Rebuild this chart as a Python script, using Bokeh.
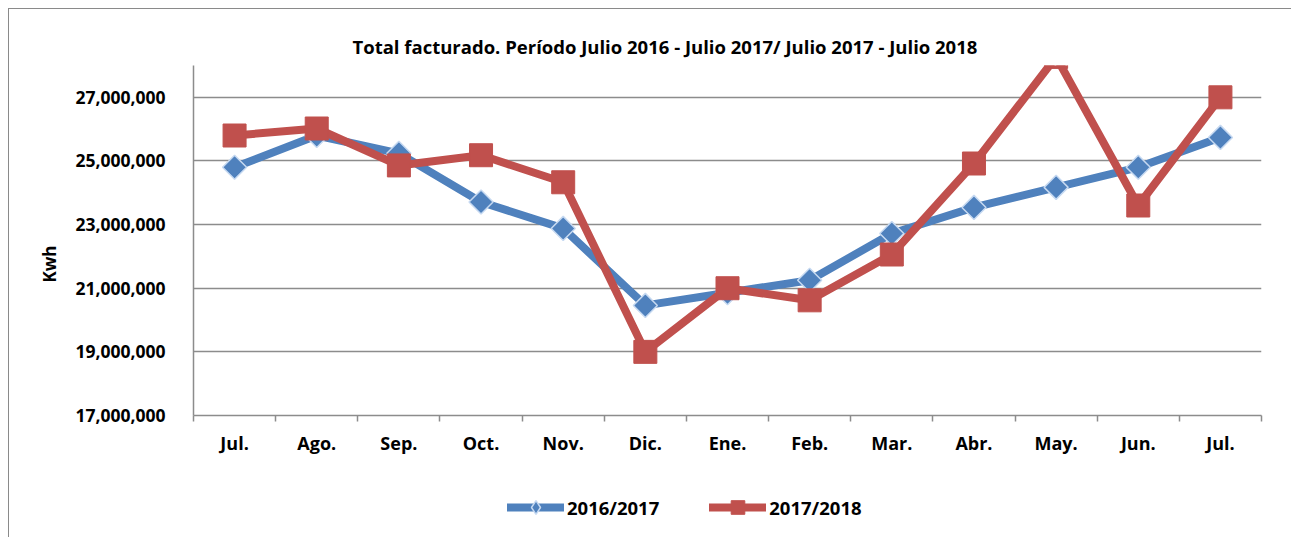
import math
from bokeh.plotting import figure
from bokeh.layouts import column
from bokeh.models import (FixedTicker, NumeralTickFormatter, Legend, LegendItem,
                          ColumnDataSource, Range1d, Title)
from bokeh.embed import file_html
from bokeh.resources import INLINE

# ---- data ----
months = ["Jul.", "Ago.", "Sep.", "Oct.", "Nov.", "Dic.", "Ene.",
          "Feb.", "Mar.", "Abr.", "May.", "Jun.", "Jul."]
serie_2016_2017 = [24.80e6, 25.80e6, 25.24e6, 23.71e6, 22.88e6, 20.46e6, 20.86e6,
                   21.25e6, 22.72e6, 23.54e6, 24.17e6, 24.80e6, 25.74e6]
serie_2017_2018 = [25.80e6, 26.02e6, 24.86e6, 25.18e6, 24.33e6, 19.00e6, 21.00e6,
                   20.62e6, 22.06e6, 24.92e6, 28.27e6, 23.60e6, 27.00e6]
y_ticks = [17e6, 19e6, 21e6, 23e6, 25e6, 27e6]
series_names = ["2016/2017", "2017/2018"]
title_text = "Total facturado. Período Julio 2016 - Julio 2017/ Julio  2017 - Julio 2018"
y_label = "Kwh"

BLUE = "#4F81BD"
RED = "#C0504D"
GRID = "#8C8C8C"
FONT = "Open Sans"

x = list(range(1, len(months) + 1))

p = figure(width=1282, height=460, output_backend="svg", toolbar_location=None,
           x_range=Range1d(0.5, len(months) + 0.5), y_range=Range1d(17e6, 28e6),
           min_border_left=184, min_border_right=30, min_border_top=56,
           min_border_bottom=54)
p.outline_line_color = None
p.background_fill_color = "white"
p.border_fill_color = "white"

# title
p.title.text = title_text
p.title.text_font = FONT
p.title.text_font_style = "bold"
p.title.text_font_size = "18.5px"
p.title.align = "left"
p.title.offset = 159
p.title.standoff = 13
p.title.text_color = "black"

# x axis
xa = p.xaxis[0]
xa.ticker = FixedTicker(ticks=x, minor_ticks=[i + 0.5 for i in range(0, len(months) + 1)])
xa.major_label_overrides = {i: m for i, m in zip(x, months)}
xa.major_tick_out = 0
xa.major_tick_in = 0
xa.major_tick_line_color = None
xa.minor_tick_out = 6
xa.minor_tick_in = 0
xa.minor_tick_line_color = GRID
xa.minor_tick_line_width = 1.5
xa.axis_line_color = GRID
xa.axis_line_width = 1.5
xa.major_label_standoff = 9
xa.major_label_text_font = FONT
xa.major_label_text_font_style = "bold"
xa.major_label_text_font_size = "18px"
xa.major_label_text_color = "black"

# y axis
ya = p.yaxis[0]
ya.ticker = FixedTicker(ticks=y_ticks)
ya.formatter = NumeralTickFormatter(format="0,0")
ya.major_tick_out = 0
ya.major_tick_in = 0
ya.minor_tick_line_color = None
ya.axis_line_color = GRID
ya.axis_line_width = 1.5
ya.major_label_standoff = 28
ya.major_label_text_font = FONT
ya.major_label_text_font_style = "bold"
ya.major_label_text_font_size = "17.5px"
ya.major_label_text_color = "black"

# rotated y label as a side title (lets it sit below the frame centre)
p.add_layout(Title(text=y_label, align="left", offset=133, standoff=24,
                   text_font=FONT, text_font_style="bold", text_font_size="17px",
                   text_color="black"), "left")

p.xgrid.grid_line_color = None
p.ygrid.ticker = FixedTicker(ticks=y_ticks)
p.ygrid.grid_line_color = GRID
p.ygrid.grid_line_width = 1.5

src = ColumnDataSource(dict(x=x, a=serie_2016_2017, b=serie_2017_2018))

p.line("x", "a", source=src, line_color=BLUE, line_width=8,
       line_join="round", line_cap="round")
p.scatter("x", "a", source=src, marker="square", angle=math.pi / 4, size=17,
          fill_color=BLUE, line_color="#C6D9F1", line_width=1.5)
p.line("x", "b", source=src, line_color=RED, line_width=8,
       line_join="round", line_cap="round")
p.scatter("x", "b", source=src, marker="square", size=23,
          fill_color=RED, line_color=RED, line_width=1)

# ---- legend strip (separate figure below the chart) ----
q = figure(width=1282, height=68, output_backend="svg", toolbar_location=None,
           x_axis_type=None, y_axis_type=None, min_border=0,
           x_range=Range1d(0, 1), y_range=Range1d(0, 1))
q.outline_line_color = None
q.background_fill_color = "white"
q.border_fill_color = "white"

# legend sample glyphs: points far outside the visible range
off = ColumnDataSource(dict(x=[-10, -9], y=[-10, -10]))
ql1 = q.line("x", "y", source=off, line_color=BLUE, line_width=8, line_cap="round")
qd1 = q.scatter("x", "y", source=off, marker="diamond", size=12,
                fill_color=BLUE, line_color="#C6D9F1", line_width=1.5)
ql2 = q.line("x", "y", source=off, line_color=RED, line_width=8, line_cap="round")
qd2 = q.scatter("x", "y", source=off, marker="square", size=12,
                fill_color=RED, line_color=RED, line_width=1)

legend = Legend(items=[LegendItem(label=series_names[0], renderers=[ql1, qd1]),
                       LegendItem(label=series_names[1], renderers=[ql2, qd2])],
                orientation="horizontal", location=(314, 13),
                glyph_width=57, glyph_height=34, label_standoff=3, spacing=50,
                padding=0, margin=0, border_line_color=None,
                background_fill_alpha=0,
                label_text_font=FONT, label_text_font_style="bold",
                label_text_font_size="18.5px", label_text_color="black")
q.add_layout(legend, "center")

layout = column(p, q, spacing=0,
                styles={"margin-left": "8px", "margin-top": "8px",
                        "border-left": "1.5px solid #8A8A8A",
                        "border-top": "1.5px solid #8A8A8A"})

open("out.html", "w").write(file_html(layout, INLINE))
